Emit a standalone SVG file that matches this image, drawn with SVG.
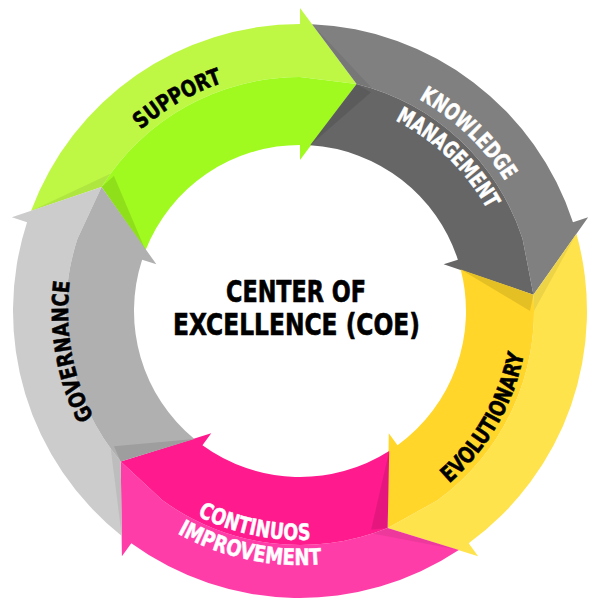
<svg xmlns="http://www.w3.org/2000/svg" width="599" height="609" viewBox="0 0 599 609">
<style>
.lbl{font-family:'DejaVu Sans Condensed','DejaVu Sans',sans-serif;font-stretch:condensed;font-weight:bold;font-size:22.5px;stroke-width:0.5px}
.ctr{font-family:'DejaVu Sans Condensed','DejaVu Sans',sans-serif;font-stretch:condensed;font-weight:bold;font-size:30.5px;fill:#000;stroke:#000;stroke-width:0.6px;text-anchor:middle}
.dk{fill:#000;stroke:#000}.wh{fill:#fff;stroke:#fff}
.shi{fill:#000;fill-opacity:0.1}
.sho{fill:#000;fill-opacity:0.07}
</style>
<defs>
<path id="pSup" d="M 73.53 228.57 A 241 241 0 0 1 341.85 73.66"/>
<path id="pKno" d="M 314.84 68.45 A 243 243 0 0 1 541.44 283.49"/>
<path id="pMan" d="M 314.86 98.52 A 213 213 0 0 1 511.83 288.74"/>
<path id="pEvo" d="M 377.98 525.25 A 228 228 0 0 0 524.54 271.41"/>
<path id="pCon" d="M 119.54 451.99 A 229 229 0 0 0 407.51 513.20"/>
<path id="pImp" d="M 99.85 467.38 A 254 254 0 0 0 419.25 535.27"/>
<path id="pGov" d="M 150.87 488.72 A 232 232 0 0 1 99.08 195"/>
</defs>
<rect width="599" height="609" fill="#fff"/>
<g id="connectors"></g>
<g id="support">
<path fill="#BEF845" d="M 31.00 210.96 A 287 287 0 0 1 300 24 L 300 8 L 356.61 83.95 L 300 77 A 234 234 0 0 0 101.56 187.00 Z"/>
<path fill="#A0FA1F" d="M 101.56 187.00 A 234 234 0 0 1 300 77 L 356.61 83.95 L 300 160 L 300 145 A 166 166 0 0 0 145.55 250.16 Z"/>
<polygon class="shi" points="101.56,187 113.93,175.81 145.55,250.16"/>
<polygon class="sho" points="101.56,187 110.69,173.46 31.00,210.96"/>
<text class="lbl dk"><textPath href="#pSup" startOffset="50%" text-anchor="middle" textLength="95" lengthAdjust="spacingAndGlyphs">SUPPORT</textPath></text>
</g>
<g id="knowledge-management">
<path fill="#808080" d="M 312.02 24.25 A 287 287 0 0 1 572.95 222.31 L 588.17 217.37 L 533.43 294.68 L 522.55 238.69 A 234 234 0 0 0 356.61 83.95 Z"/>
<path fill="#666666" d="M 356.61 83.95 A 234 234 0 0 1 522.55 238.69 L 533.43 294.68 L 443.61 264.34 L 457.88 259.70 A 166 166 0 0 0 310.13 145.31 Z"/>
<polygon class="shi" points="356.61,83.95 371.07,92.26 310.13,145.31"/>
<polygon class="sho" points="356.61,83.95 372.31,88.45 312.02,24.25"/>
<text class="lbl wh"><textPath href="#pKno" startOffset="50%" text-anchor="middle" textLength="120" lengthAdjust="spacingAndGlyphs">KNOWLEDGE</textPath></text>
<text class="lbl wh"><textPath href="#pMan" startOffset="50%" text-anchor="middle" textLength="130" lengthAdjust="spacingAndGlyphs">MANAGEMENT</textPath></text>
</g>
<g id="evolutionary">
<path fill="#FFE34C" d="M 576.43 233.82 A 287 287 0 0 1 468.70 543.19 L 478.10 556.13 L 387.66 527.96 L 437.54 500.31 A 234 234 0 0 0 533.43 294.68 Z"/>
<path fill="#FFD629" d="M 533.43 294.68 A 234 234 0 0 1 437.54 500.31 L 387.66 527.96 L 388.76 433.16 L 397.57 445.30 A 166 166 0 0 0 460.71 269.44 Z"/>
<polygon class="shi" points="533.43,294.68 530,311 460.71,269.44"/>
<polygon class="sho" points="533.43,294.68 534,311 576.43,233.82"/>
<text class="lbl dk"><textPath href="#pEvo" startOffset="50%" text-anchor="middle" textLength="152" lengthAdjust="spacingAndGlyphs">EVOLUTIONARY</textPath></text>
</g>
<g id="continuos-improvement">
<path fill="#FF3DA8" d="M 458.82 550.05 A 287 287 0 0 1 131.30 543.19 L 121.90 556.13 L 120.75 461.41 L 162.46 500.31 A 234 234 0 0 0 387.66 527.96 Z"/>
<path fill="#FF1A8E" d="M 387.66 527.96 A 234 234 0 0 1 162.46 500.31 L 120.75 461.41 L 211.24 433.16 L 202.43 445.30 A 166 166 0 0 0 389.19 451.00 Z"/>
<polygon class="shi" points="387.66,527.96 371.07,529.74 389.19,451.00"/>
<polygon class="sho" points="387.66,527.96 372.31,533.55 458.82,550.05"/>
<text class="lbl wh"><textPath href="#pCon" startOffset="50%" text-anchor="middle" textLength="117" lengthAdjust="spacingAndGlyphs">CONTINUOS</textPath></text>
<text class="lbl wh"><textPath href="#pImp" startOffset="50%" text-anchor="middle" textLength="150" lengthAdjust="spacingAndGlyphs">IMPROVEMENT</textPath></text>
</g>
<g id="governance">
<path fill="#CCCCCC" d="M 121.73 535.92 A 287 287 0 0 1 27.05 222.31 L 11.83 217.37 L 101.56 187.00 L 77.45 238.69 A 234 234 0 0 0 120.75 461.41 Z"/>
<path fill="#B0B0B0" d="M 120.75 461.41 A 234 234 0 0 1 77.45 238.69 L 101.56 187.00 L 156.39 264.34 L 142.12 259.70 A 166 166 0 0 0 194.41 439.09 Z"/>
<polygon class="shi" points="120.75,461.41 113.93,446.19 194.41,439.09"/>
<polygon class="sho" points="120.75,461.41 110.69,448.54 121.73,535.92"/>
<text class="lbl dk"><textPath href="#pGov" startOffset="50%" text-anchor="middle" textLength="140" lengthAdjust="spacingAndGlyphs">GOVERNANCE</textPath></text>
</g>
<g id="center">
<text class="ctr" x="296" y="302" textLength="140" lengthAdjust="spacingAndGlyphs">CENTER OF</text>
<text class="ctr" x="296.5" y="335" textLength="247" lengthAdjust="spacingAndGlyphs">EXCELLENCE (COE)</text>
</g>
</svg>
